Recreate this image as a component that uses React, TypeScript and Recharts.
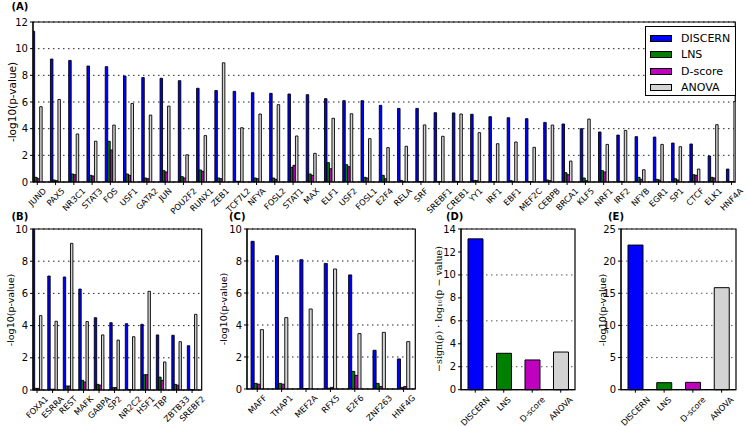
import React from 'react';
import { BarChart, Bar, XAxis, YAxis, CartesianGrid, ReferenceArea, Cell } from 'recharts';

// method names + matplotlib-ish colours
const METHODS = ['DISCERN', 'LNS', 'D-score', 'ANOVA'];
const COLORS = ['#0000ff', '#008000', '#bf00bf', '#d3d3d3'];

// panel A
const A_NAMES = [
  'JUND', 'PAX5', 'NR3C1', 'STAT3', 'FOS', 'USF1', 'GATA2', 'JUN', 'POU2F2', 'RUNX1',
  'ZEB1', 'TCF7L2', 'NFYA', 'FOSL2', 'STAT1', 'MAX', 'ELF1', 'USF2', 'FOSL1', 'E2F4',
  'RELA', 'SRF', 'SREBF1', 'CREB1', 'YY1', 'IRF1', 'EBF1', 'MEF2C', 'CEBPB', 'BRCA1',
  'KLF5', 'NRF1', 'IRF2', 'NFYB', 'EGR1', 'SP1', 'CTCF', 'ELK1', 'HNF4A',
];
const A_DISCERN = [
  11.3, 9.22, 9.12, 8.7, 8.65, 7.95, 7.83, 7.78, 7.6, 7.03,
  6.86, 6.8, 6.7, 6.65, 6.6, 6.55, 6.25, 6.1, 6.1, 5.75,
  5.52, 5.52, 5.2, 5.18, 5.08, 4.9, 4.82, 4.75, 4.47, 4.35,
  4.0, 3.75, 3.52, 3.4, 3.37, 2.92, 2.85, 1.95, 0.97,
];
const A_LNS = [
  0.35, 0.15, 0.6, 0.5, 3.05, 0.6, 0.3, 0.85, 0.4, 0.9,
  0.3, 0.05, 0.3, 0.3, 1.1, 0.6, 1.45, 1.3, 0.35, 0.5,
  0.12, 0.02, 0.02, 0.05, 0.12, 0.02, 0.1, 0.02, 0.15, 0.7,
  0.3, 0.85, 0.05, 0.35, 0.2, 0.25, 0.55, 0.35, 0.02,
];
const A_DSCORE = [
  0.25, 0.1, 0.55, 0.45, 2.4, 0.5, 0.25, 0.75, 0.3, 0.8,
  0.25, 0.05, 0.25, 0.2, 1.25, 0.5, 1.0, 1.15, 0.3, 0.25,
  0.05, 0.02, 0.02, 0.03, 0.1, 0.02, 0.05, 0.02, 0.1, 0.55,
  0.1, 0.75, 0.03, 0.2, 0.15, 0.15, 0.5, 0.3, 0.02,
];
const A_ANOVA = [
  5.65, 6.19, 3.6, 3.06, 4.27, 5.89, 5.02, 5.69, 2.04, 3.48,
  8.94, 4.07, 5.1, 5.8, 3.45, 2.15, 4.78, 5.12, 3.25, 2.58,
  2.68, 4.28, 3.43, 5.1, 3.7, 2.87, 3.0, 2.6, 4.27, 1.57,
  4.72, 2.82, 3.87, 0.92, 2.82, 2.65, 0.97, 4.3, 6.04,
];

// panel B
const B_NAMES = ['FOXA1', 'ESRRA', 'REST', 'MAFK', 'GABPA', 'SP2', 'NR2C2', 'HSF1', 'TBP', 'ZBTB33', 'SREBF2'];
const B_DISCERN = [10.5, 7.08, 7.02, 6.27, 4.49, 4.18, 4.12, 4.08, 3.42, 3.4, 2.75];
const B_LNS = [0.1, 0.05, 0.25, 0.6, 0.35, 0.15, 0.02, 0.95, 0.8, 0.35, 0.02];
const B_DSCORE = [0.1, 0.05, 0.25, 0.5, 0.3, 0.15, 0.02, 0.95, 0.6, 0.3, 0.02];
const B_ANOVA = [4.62, 4.27, 9.11, 4.25, 3.42, 3.1, 3.31, 6.13, 1.74, 3.0, 4.7];

// panel C
const C_NAMES = ['MAFF', 'THAP1', 'MEF2A', 'RFX5', 'E2F6', 'ZNF263', 'HNF4G'];
const C_DISCERN = [9.23, 8.33, 8.08, 7.85, 7.13, 2.42, 1.88];
const C_LNS = [0.35, 0.35, 0.02, 0.05, 1.1, 0.35, 0.1];
const C_DSCORE = [0.3, 0.3, 0.02, 0.1, 0.85, 0.15, 0.15];
const C_ANOVA = [3.71, 4.46, 5.0, 7.5, 3.46, 3.54, 2.96];

// panels D and E: one value per method
const D_VALUES = [13.14, 3.17, 2.59, 3.28];
const E_VALUES = [22.5, 1.09, 1.14, 15.87];

const A_TICKS = [0, 2, 4, 6, 8, 10, 12];
const BC_TICKS = [0, 2, 4, 6, 8, 10];
const D_TICKS = [0, 2, 4, 6, 8, 10, 12, 14];
const E_TICKS = [0, 5, 10, 15, 20, 25];

const FONT = '"DejaVu Sans", sans-serif';
const YW = 40; // y axis width inside each chart
const MT = 10;
const MR = 10;

let ctx: CanvasRenderingContext2D | null = null;
function textWidth(s: string, fs: number) {
  if (!ctx) ctx = document.createElement('canvas').getContext('2d');
  if (!ctx) return s.length * fs * 0.65;
  ctx.font = `${fs}px ${FONT}`;
  return ctx.measureText(s).width;
}

/** x tick label rotated 45°, its bounding box centred on the tick (matplotlib ha='center') */
function RotTick(props: any) {
  const { x, y, index, names, fs = 8.3, pad = 0 } = props;
  const label = names[index];
  if (label == null) return null;
  const w = textWidth(label, fs);
  const half = ((w + fs * 0.8) * Math.SQRT1_2) / 2;
  const cy = y + pad + half;
  return (
    <text
      x={x}
      y={cy}
      textAnchor="middle"
      dominantBaseline="central"
      transform={`rotate(-45 ${x} ${cy})`}
      fontSize={fs}
      fontFamily={FONT}
      fill="#000"
    >
      {label}
    </text>
  );
}

interface Box { l: number; t: number; w: number; h: number }

interface GroupPanelProps {
  box: Box;
  names: string[];
  discern: number[];
  lns: number[];
  dscore: number[];
  anova: number[];
  xMax: number;
  center: number;
  yMax: number;
  yTicks: number[];
  barSize: number;
  xh: number;
}

function GroupPanel({ box, names, discern, lns, dscore, anova, xMax, center, yMax, yTicks, barSize, xh }: GroupPanelProps) {
  const data = names.map((n, i) => ({
    name: n,
    pos: i + center,
    discern: discern[i],
    lns: lns[i],
    dscore: dscore[i],
    anova: anova[i],
  }));
  const keys = ['discern', 'lns', 'dscore', 'anova'];
  return (
    <div style={{ position: 'absolute', left: box.l - YW, top: box.t - MT }}>
      <BarChart
        width={box.w + YW + MR}
        height={box.h + MT + xh}
        data={data}
        margin={{ top: MT, right: MR, left: 0, bottom: 0 }}
        barGap={0}
      >
        <CartesianGrid vertical={false} stroke="#222" strokeDasharray="1.5 3.5" />
        <XAxis
          type="number"
          dataKey="pos"
          domain={[0, xMax]}
          ticks={data.map((d) => d.pos)}
          interval={0}
          allowDataOverflow
          height={xh}
          tickSize={3}
          stroke="#000"
          tick={<RotTick names={names} fs={8.3} pad={0} />}
        />
        <YAxis
          domain={[0, yMax]}
          ticks={yTicks}
          allowDataOverflow
          width={YW}
          tickSize={3}
          stroke="#000"
          tick={{ fontSize: 10, fill: '#000', fontFamily: FONT }}
        />
        {keys.map((k, i) => (
          <Bar
            key={k}
            dataKey={k}
            fill={COLORS[i]}
            stroke="#000"
            strokeWidth={0.9}
            barSize={barSize}
            isAnimationActive={false}
          />
        ))}
        <ReferenceArea x1={0} x2={xMax} y1={0} y2={yMax} fill="none" stroke="#000" strokeWidth={1.2} ifOverflow="visible" />
      </BarChart>
    </div>
  );
}

function MethodPanel({ box, values, yMax, yTicks }: { box: Box; values: number[]; yMax: number; yTicks: number[] }) {
  const data = METHODS.map((m, i) => ({ name: m, value: values[i] }));
  const xh = 427 - (box.t + box.h);
  return (
    <div style={{ position: 'absolute', left: box.l - YW, top: box.t - MT }}>
      <BarChart
        width={box.w + YW + MR}
        height={box.h + MT + xh}
        data={data}
        margin={{ top: MT, right: MR, left: 0, bottom: 0 }}
      >
        <CartesianGrid vertical={false} stroke="#555" strokeDasharray="1.5 3.5" />
        <XAxis
          dataKey="name"
          interval={0}
          height={xh}
          tickSize={3}
          stroke="#000"
          tick={<RotTick names={METHODS} fs={8.3} pad={1} />}
        />
        <YAxis
          domain={[0, yMax]}
          ticks={yTicks}
          width={YW}
          tickSize={3}
          stroke="#000"
          tick={{ fontSize: 10, fill: '#000', fontFamily: FONT }}
        />
        <Bar dataKey="value" barSize={15} stroke="#000" strokeWidth={1} isAnimationActive={false}>
          {data.map((d, i) => (
            <Cell key={d.name} fill={COLORS[i]} />
          ))}
        </Bar>
        <ReferenceArea y1={0} y2={yMax} fill="none" stroke="#000" strokeWidth={1.2} ifOverflow="visible" />
      </BarChart>
    </div>
  );
}

function Legend() {
  return (
    <div
      style={{
        position: 'absolute', left: 645, top: 26, width: 91, height: 70,
        border: '1px solid #000', background: '#fff', boxSizing: 'border-box',
      }}
    >
      {METHODS.map((m, i) => (
        <div key={m} style={{ position: 'absolute', left: 4, top: 5 + i * 16.5, height: 12, display: 'flex', alignItems: 'center' }}>
          <div style={{ width: 22, height: 7, background: COLORS[i], border: '1px solid #000', boxSizing: 'border-box' }} />
          <span style={{ marginLeft: 9, fontSize: 11, fontFamily: FONT, color: '#000' }}>{m}</span>
        </div>
      ))}
    </div>
  );
}

function YLabel({ x, y, text, fs, serif }: { x: number; y: number; text: string; fs: number; serif?: boolean }) {
  return (
    <text
      x={x}
      y={y}
      textAnchor="middle"
      dominantBaseline="central"
      transform={`rotate(-90 ${x} ${y})`}
      fontSize={fs}
      fontFamily={serif ? '"DejaVu Serif", serif' : FONT}
      fill="#000"
    >
      {text}
    </text>
  );
}

export default function App() {
  const titles = [
    { t: '(A)', x: 11.5, y: 10 },
    { t: '(B)', x: 11.5, y: 220 },
    { t: '(C)', x: 229, y: 220 },
    { t: '(D)', x: 446, y: 220 },
    { t: '(E)', x: 608, y: 220 },
  ];
  return (
    <div style={{ position: 'absolute', left: 0, top: 0, width: 747, height: 427, background: '#fff', overflow: 'hidden' }}>
      <GroupPanel
        box={{ l: 33, t: 22, w: 702.3, h: 160 }}
        names={A_NAMES} discern={A_DISCERN} lns={A_LNS} dscore={A_DSCORE} anova={A_ANOVA}
        xMax={38.44} center={0.235} yMax={12} yTicks={A_TICKS} barSize={2.5} xh={40}
      />
      <GroupPanel
        box={{ l: 33, t: 229.3, w: 168.7, h: 161 }}
        names={B_NAMES} discern={B_DISCERN} lns={B_LNS} dscore={B_DSCORE} anova={B_ANOVA}
        xMax={10.88} center={0.26} yMax={10} yTicks={BC_TICKS} barSize={2.4} xh={36}
      />
      <GroupPanel
        box={{ l: 246.7, t: 229, w: 168.3, h: 160 }}
        names={C_NAMES} discern={C_DISCERN} lns={C_LNS} dscore={C_DSCORE} anova={C_ANOVA}
        xMax={6.9} center={0.42} yMax={10} yTicks={BC_TICKS} barSize={3.1} xh={38}
      />
      <MethodPanel box={{ l: 460.7, t: 229.3, w: 114, h: 160.7 }} values={D_VALUES} yMax={14} yTicks={D_TICKS} />
      <MethodPanel box={{ l: 620.7, t: 229.3, w: 115, h: 160.7 }} values={E_VALUES} yMax={25} yTicks={E_TICKS} />
      <Legend />
      <svg width={747} height={427} style={{ position: 'absolute', left: 0, top: 0, pointerEvents: 'none' }}>
        {titles.map((d) => (
          <text key={d.t} x={d.x} y={d.y} fontSize={10} fontWeight="bold" fontFamily={FONT} fill="#000">
            {d.t}
          </text>
        ))}
        <YLabel x={12} y={102} text="-log10(p-value)" fs={10.5} />
        <YLabel x={10} y={310} text="-log10(p-value)" fs={9.5} />
        <YLabel x={223} y={309} text="-log10(p-value)" fs={9.5} />
        <YLabel x={438.5} y={309} text="−sign(ρ) · log₁₀(p − value)" fs={9.5} serif />
        <YLabel x={602.5} y={310} text="-log10(p-value)" fs={9.5} />
      </svg>
    </div>
  );
}
